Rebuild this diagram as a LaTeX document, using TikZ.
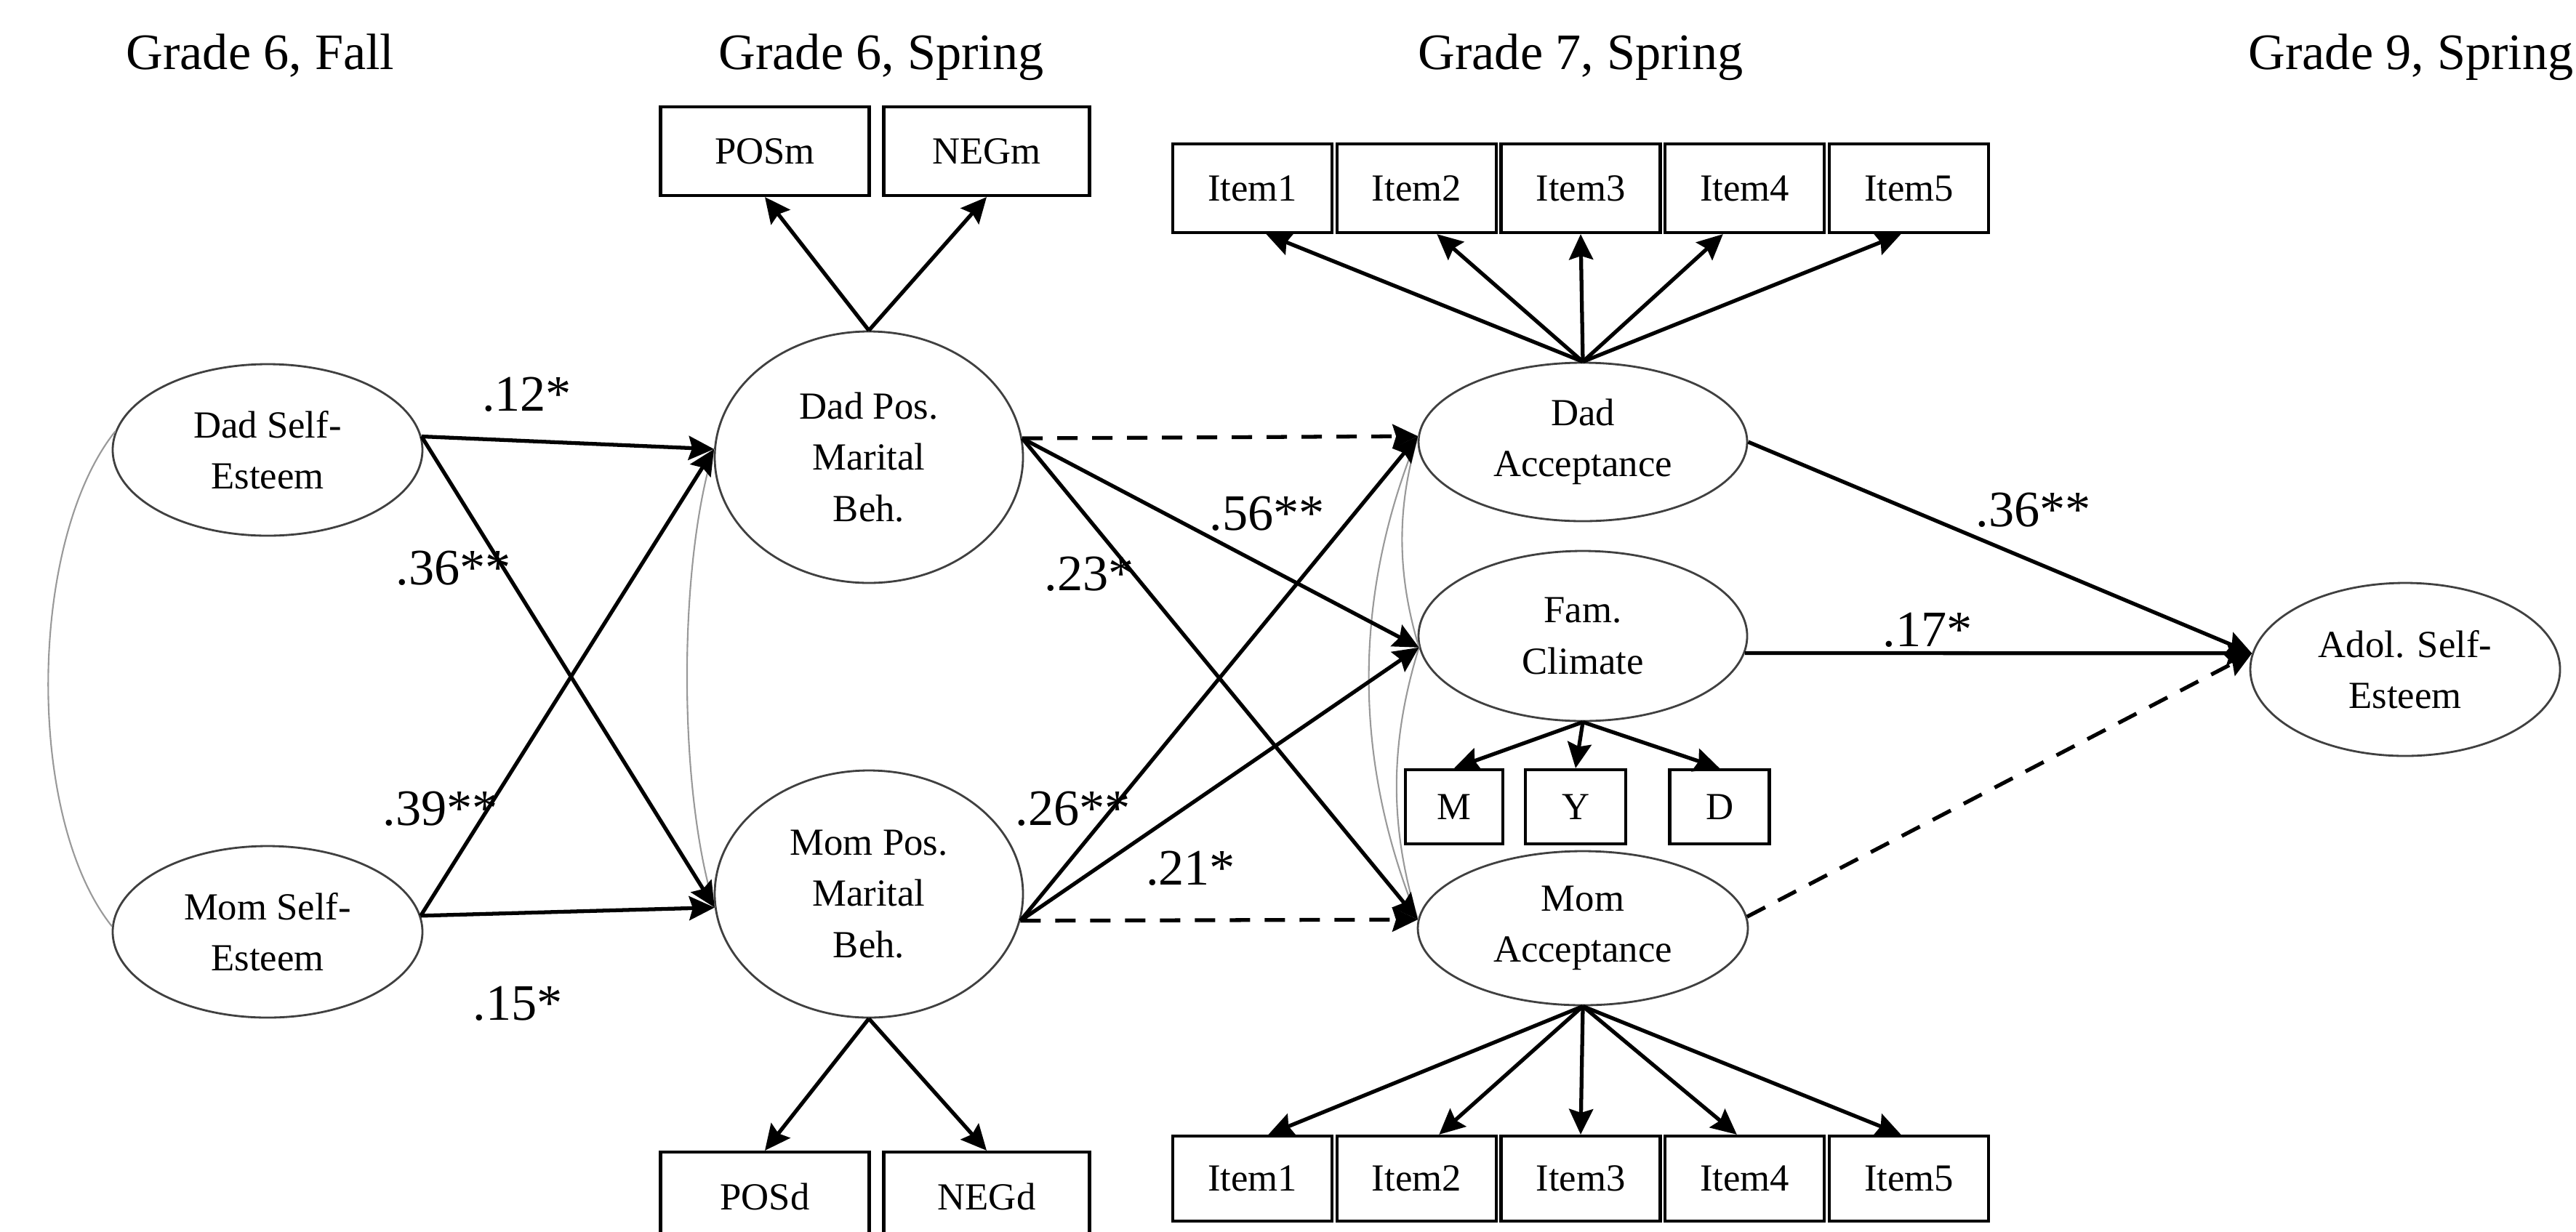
\documentclass[tikz,border=0pt]{standalone}
\usepackage{fontspec}
\setmainfont{Liberation Serif}
\usetikzlibrary{shapes,arrows.meta}

\begin{document}
\begin{tikzpicture}[
  latent/.style={ellipse, draw=black!75, line width=0.8pt, inner sep=0pt,
                 minimum width=4.26cm, minimum height=2.36cm, align=center,
                 font=\fontsize{15}{20}\selectfont},
  obs/.style={rectangle, draw, line width=1.2pt, inner sep=0pt,
              minimum width=2.19cm, minimum height=1.22cm,
              font=\fontsize{15}{20}\selectfont},
  arr/.style={-{Stealth[length=3.5mm,width=3.3mm,inset=0.5mm]}, line width=1.5pt},
  dasharr/.style={arr, dash pattern=on 2.8mm off 2mm},
  cov/.style={draw=black!40, line width=0.6pt},
  lbl/.style={font=\fontsize{20}{24}\selectfont, inner sep=0pt},
  grade/.style={font=\fontsize{20}{24}\selectfont, anchor=base}
]
\useasboundingbox[fill=white] (0,0) rectangle (35.43,-16.94);

% waves
\node[grade] (g6fall) at (3.58,-0.95)  {Grade 6, Fall};
\node[grade] (g6spr)  at (12.12,-0.95) {Grade 6, Spring};
\node[grade] (g7spr)  at (21.74,-0.95) {Grade 7, Spring};
\node[grade] (g9spr)  at (33.16,-0.95) {Grade 9, Spring};

% latent variables
\node[latent] (dadse) at (3.68,-6.19)  {Dad Self-\\Esteem};
\node[latent] (momse) at (3.68,-12.82) {Mom Self-\\Esteem};
\node[latent, minimum width=4.24cm, minimum height=3.46cm]
             (dadpos) at (11.95,-6.29)  {Dad Pos.\\Marital\\Beh.};
\node[latent, minimum width=4.24cm, minimum height=3.40cm]
             (mompos) at (11.95,-12.30) {Mom Pos.\\Marital\\Beh.};
\node[latent, minimum width=4.52cm, minimum height=2.18cm]
             (dadacc) at (21.77,-6.08)  {Dad\\Acceptance};
\node[latent, minimum width=4.52cm, minimum height=2.34cm]
             (famclim) at (21.77,-8.75) {Fam.\\Climate};
\node[latent, minimum width=4.54cm, minimum height=2.12cm]
             (momacc) at (21.77,-12.77) {Mom\\Acceptance};
\node[latent, minimum height=2.38cm] (adolse) at (33.08,-9.21) {Adol. Self-\\Esteem};

% indicators
\node[obs, minimum width=2.87cm] (posm) at (10.52,-2.08)  {POSm};
\node[obs, minimum width=2.83cm] (negm) at (13.57,-2.08)  {NEGm};
\node[obs, minimum width=2.87cm] (posd) at (10.52,-16.46) {POSd};
\node[obs, minimum width=2.83cm] (negd) at (13.57,-16.46) {NEGd};
\node[obs] (dadit1) at (17.225,-2.59) {Item1};
\node[obs] (dadit2) at (19.483,-2.59) {Item2};
\node[obs] (dadit3) at (21.74,-2.59)  {Item3};
\node[obs] (dadit4) at (23.998,-2.59) {Item4};
\node[obs] (dadit5) at (26.255,-2.59) {Item5};
\node[obs, minimum height=1.17cm] (momit1) at (17.225,-16.215) {Item1};
\node[obs, minimum height=1.17cm] (momit2) at (19.483,-16.215) {Item2};
\node[obs, minimum height=1.17cm] (momit3) at (21.74,-16.215)  {Item3};
\node[obs, minimum height=1.17cm] (momit4) at (23.998,-16.215) {Item4};
\node[obs, minimum height=1.17cm] (momit5) at (26.255,-16.215) {Item5};
\node[obs, minimum width=1.34cm, minimum height=1.02cm] (fm) at (20.00,-11.10) {M};
\node[obs, minimum width=1.38cm, minimum height=1.02cm] (fy) at (21.67,-11.10) {Y};
\node[obs, minimum width=1.37cm, minimum height=1.02cm] (fd) at (23.65,-11.10) {D};

% covariances
\draw[cov] (dadse.173) .. controls +(-1.2,-1.5) and +(-1.2,1.5) .. (momse.178);
\draw[cov] (dadpos.177) .. controls +(-0.5,-1.6) and +(-0.5,1.6) .. (mompos.185);
\draw[cov] (dadacc.178) .. controls +(-0.9,-2.2) and +(-0.9,2.2) .. (momacc.177);
\draw[cov] (dadacc.178) .. controls +(-0.3,-1) and +(-0.3,1) .. (famclim.184);
\draw[cov] (famclim.184) .. controls +(-0.4,-1.3) and +(-0.4,1.3) .. (momacc.177);

% measurement paths
\draw[arr] (dadpos.north) -- (posm.south);
\draw[arr] (dadpos.north) -- (negm.south);
\draw[arr] (mompos.south) -- (posd.north);
\draw[arr] (mompos.south) -- (negd.north);
\draw[arr] (dadacc.north) -- ([xshift=0.19cm]dadit1.south);
\draw[arr] (dadacc.north) -- ([xshift=0.28cm]dadit2.south);
\draw[arr] (dadacc.north) -- (dadit3.south);
\draw[arr] (dadacc.north) -- ([xshift=-0.3cm]dadit4.south);
\draw[arr] (dadacc.north) -- ([xshift=-0.11cm]dadit5.south);
\draw[arr] (momacc.south) -- ([xshift=0.22cm]momit1.north);
\draw[arr] (momacc.south) -- ([xshift=0.31cm]momit2.north);
\draw[arr] (momacc.south) -- (momit3.north);
\draw[arr] (momacc.south) -- ([xshift=-0.11cm]momit4.north);
\draw[arr] (momacc.south) -- ([xshift=-0.11cm]momit5.north);
\draw[arr] (famclim.south) -- (fm.north);
\draw[arr] (famclim.south) -- (fy.north);
\draw[arr] (famclim.south) -- (fd.north);

% structural paths
\draw[arr] (dadse.5) -- (dadpos.177) node[lbl, pos=0.36, yshift=0.64cm] (p12) {.12*};
\draw[arr] (dadse.5) -- (mompos.185) node[lbl, pos=0.28, xshift=-0.69cm] (p36a) {.36**};
\draw[arr] (momse.6) -- (dadpos.177) node[lbl, pos=0.229, xshift=-0.65cm] (p39) {.39**};
\draw[arr] (momse.6) -- (mompos.185) node[lbl, pos=0.33, yshift=-1.25cm] (p15) {.15*};
\draw[dasharr] (dadpos.7) -- (dadacc.178);
\draw[arr] (dadpos.7) -- (famclim.184) node[lbl, pos=0.617, yshift=0.74cm] (p56) {.56**};
\draw[arr] (dadpos.7) -- (momacc.177) node[lbl, pos=0.282, xshift=-0.61cm] (p23) {.23*};
\draw[arr] (mompos.350) -- (dadacc.178) node[lbl, pos=0.231, xshift=-0.54cm] (p26) {.26**};
\draw[arr] (mompos.350) -- (famclim.184) node[lbl, pos=0.427, yshift=-0.88cm] (p21) {.21*};
\draw[dasharr] (mompos.350) -- (momacc.177);
\draw[arr] (dadacc.east) -- (adolse.174) node[lbl, pos=0.566, yshift=0.71cm] (p36b) {.36**};
\draw[arr] (famclim.354) -- (adolse.174) node[lbl, pos=0.36, yshift=0.32cm] (p17) {.17*};
\draw[dasharr] (momacc.4) -- (adolse.174);
\end{tikzpicture}
\end{document}
